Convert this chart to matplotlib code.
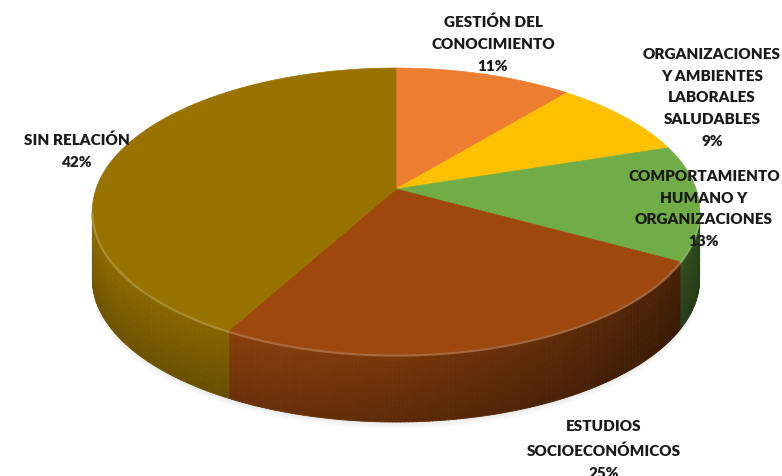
import numpy as np
import matplotlib.pyplot as plt
from matplotlib.colors import to_rgb
from matplotlib.patches import Polygon
from matplotlib.collections import PolyCollection

# Distribución de temas
categories = ['GESTIÓN DEL\nCONOCIMIENTO',
              'ORGANIZACIONES\nY AMBIENTES\nLABORALES\nSALUDABLES',
              'COMPORTAMIENTO\nHUMANO Y\nORGANIZACIONES',
              'ESTUDIOS\nSOCIOECONÓMICOS',
              'SIN RELACIÓN']
shares = [11, 9, 13, 25, 42]
colors = ['#ED7D31', '#FFC000', '#70AD47', '#9E480E', '#997300']

# label anchor points (pixels)
label_pos = [(493, 44), (712, 98), (704, 209), (604, 450), (77, 151)]

# pie geometry in pixel space, simple perspective projection
cx, cy = 396, 190
A, B, k = 300, 139.6, 0.154
depth = 68


def project(phi, drop=0.0):
    u, v = np.cos(phi), np.sin(phi)
    d = 1 + k * v
    return cx + A * u / d, cy - B * v / d + drop


def shade(rgb, f):
    return tuple(np.clip(np.array(rgb) * f, 0, 1))


def lighten(rgb, f):
    return tuple(np.array(rgb) + (1 - np.array(rgb)) * f)


fig = plt.figure(figsize=(7.82, 4.77), dpi=100)
ax = fig.add_axes([0, 0, 1, 1])
ax.set_xlim(0, 782)
ax.set_ylim(477, 0)
ax.axis('off')

# slice angle ranges, clockwise from 12 o'clock
cum = np.concatenate([[0], np.cumsum(shares)]) / sum(shares)
start = np.pi / 2
ranges = [(start - 2 * np.pi * cum[i + 1], start - 2 * np.pi * cum[i]) for i in range(len(shares))]

# visible front wall: between the silhouette points
front_lo = -np.pi + np.arcsin(k)
front_hi = -np.arcsin(k)

# soft shadow under the pie
phis = np.linspace(front_lo - 0.3, front_hi + 0.3, 200)
for grow in np.linspace(10, 0, 8):
    px, py = project(phis, depth)
    pts = np.column_stack([np.r_[px, px[::-1]], np.r_[py + grow * 0.7, (py - 40)[::-1]]])
    ax.add_patch(Polygon(pts, closed=True, facecolor='0.5', edgecolor='none', alpha=0.025, zorder=1))

# side walls with horizontal and vertical shading
for (a0, a1), col in zip(ranges, colors):
    rgb = to_rgb(col)
    for off in (0, 2 * np.pi, -2 * np.pi):
        lo, hi = max(a0 + off, front_lo), min(a1 + off, front_hi)
        if hi <= lo:
            continue
        ph = np.linspace(lo, hi, max(int((hi - lo) * 90), 4))
        polys, fcs = [], []
        nb = 10
        for j in range(len(ph) - 1):
            x0, y0 = project(ph[j])
            x1, y1 = project(ph[j + 1])
            xm = ((x0 + x1) / 2 - 90) / 610
            fx = 0.93 - 0.2 * xm - 0.3 * xm ** 2
            for b in range(nb):
                t0, t1 = b / nb, (b + 1) / nb
                polys.append([(x0, y0 + depth * t0), (x1, y1 + depth * t0),
                              (x1, y1 + depth * t1), (x0, y0 + depth * t1)])
                fcs.append(shade(rgb, fx * (1 - 0.22 * (t0 + t1) / 2)))
        ax.add_collection(PolyCollection(polys, facecolors=fcs, edgecolors=fcs,
                                         linewidths=0.6, zorder=2))

# top faces
for (a0, a1), col in zip(ranges, colors):
    ph = np.linspace(a0, a1, 200)
    px, py = project(ph)
    pts = np.column_stack([np.r_[cx, px], np.r_[cy, py]])
    ax.add_patch(Polygon(pts, closed=True, facecolor=col, edgecolor=col,
                         linewidth=0.5, zorder=3))

# bevel highlight along the front rim
for (a0, a1), col in zip(ranges, colors):
    rgb = to_rgb(col)
    for off in (0, 2 * np.pi, -2 * np.pi):
        lo, hi = max(a0 + off, front_lo), min(a1 + off, front_hi)
        if hi <= lo:
            continue
        ph = np.linspace(lo, hi, 100)
        px, py = project(ph)
        ax.plot(px, py + 1.5, color=lighten(rgb, 0.25), lw=1.6, alpha=0.8,
                solid_capstyle='butt', zorder=4)

# data labels
for cat, val, (lx, ly) in zip(categories, shares, label_pos):
    ax.text(lx, ly, f'{cat}\n{val}%', ha='center', va='center',
            fontsize=11, fontweight='heavy', family='Lato',
            color='#1a1a1a', linespacing=1.8, zorder=5)

fig.savefig('out.png', dpi=100)
